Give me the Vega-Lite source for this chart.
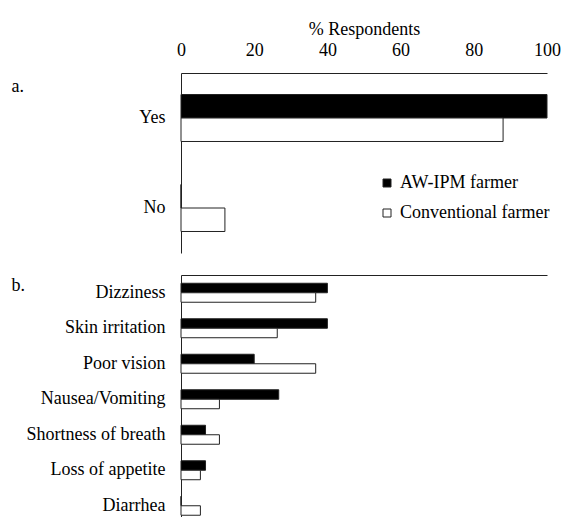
{
  "$schema": "https://vega.github.io/schema/vega-lite/v6.json",
  "padding": {"left": 11, "top": 20, "right": 5, "bottom": 0},
  "background": "white",
  "config": {
    "view": {"stroke": null},
    "font": "Liberation Serif",
    "axis": {"labelFont": "Liberation Serif", "titleFont": "Liberation Serif", "labelColor": "black", "titleColor": "black", "domainColor": "#222", "grid": false, "ticks": false},
    "legend": {"labelFont": "Liberation Serif", "labelColor": "black"}
  },
  "spacing": 22,
  "resolve": {"scale": {"color": "independent", "y": "independent", "yOffset": "independent"}},
  "vconcat": [
    {
      "width": 366,
      "height": 180,
      "data": {"values": [
        {"answer": "Yes", "farmer": "AW-IPM farmer", "pct": 100},
        {"answer": "Yes", "farmer": "Conventional farmer", "pct": 88},
        {"answer": "No", "farmer": "AW-IPM farmer", "pct": 0},
        {"answer": "No", "farmer": "Conventional farmer", "pct": 12}
      ]},
      "mark": {"type": "bar", "stroke": "#222", "strokeWidth": 1},
      "encoding": {
        "x": {"field": "pct", "type": "quantitative", "scale": {"domain": [0, 100], "nice": false},
          "axis": {"orient": "top", "title": "% Respondents", "titleFontSize": 18, "titleFontWeight": "normal", "titlePadding": 3, "labelFontSize": 18, "labelPadding": 14, "values": [0, 20, 40, 60, 80, 100], "labelFlush": false}},
        "y": {"field": "answer", "type": "nominal", "sort": ["Yes", "No"], "scale": {"paddingInner": 0.478, "paddingOuter": 0.239},
          "axis": {"title": "a.", "titleAngle": 0, "titleAlign": "left", "titleBaseline": "alphabetic", "titleX": -170, "titleY": 18, "titleFontSize": 18, "titleFontWeight": "normal", "labelFontSize": 18, "labelPadding": 16}},
        "yOffset": {"field": "farmer", "type": "nominal", "sort": ["AW-IPM farmer", "Conventional farmer"]},
        "color": {"field": "farmer", "type": "nominal", "scale": {"domain": ["AW-IPM farmer", "Conventional farmer"], "range": ["black", "white"]},
          "legend": {"title": null, "orient": "none", "legendX": 197, "legendY": 101, "padding": 0, "symbolType": "square", "symbolSize": 64, "symbolStrokeColor": "#222", "symbolStrokeWidth": 1, "labelFontSize": 18, "labelOffset": 4, "rowPadding": 12}}
      }
    },
    {
      "width": 366,
      "height": 248.5,
      "data": {"values": [
        {"symptom": "Dizziness", "farmer": "AW-IPM farmer", "pct": 40},
        {"symptom": "Dizziness", "farmer": "Conventional farmer", "pct": 36.8},
        {"symptom": "Skin irritation", "farmer": "AW-IPM farmer", "pct": 40},
        {"symptom": "Skin irritation", "farmer": "Conventional farmer", "pct": 26.3},
        {"symptom": "Poor vision", "farmer": "AW-IPM farmer", "pct": 20},
        {"symptom": "Poor vision", "farmer": "Conventional farmer", "pct": 36.8},
        {"symptom": "Nausea/Vomiting", "farmer": "AW-IPM farmer", "pct": 26.7},
        {"symptom": "Nausea/Vomiting", "farmer": "Conventional farmer", "pct": 10.5},
        {"symptom": "Shortness of breath", "farmer": "AW-IPM farmer", "pct": 6.7},
        {"symptom": "Shortness of breath", "farmer": "Conventional farmer", "pct": 10.5},
        {"symptom": "Loss of appetite", "farmer": "AW-IPM farmer", "pct": 6.7},
        {"symptom": "Loss of appetite", "farmer": "Conventional farmer", "pct": 5.3},
        {"symptom": "Diarrhea", "farmer": "AW-IPM farmer", "pct": 0},
        {"symptom": "Diarrhea", "farmer": "Conventional farmer", "pct": 5.3}
      ]},
      "mark": {"type": "bar", "stroke": "#222", "strokeWidth": 1},
      "encoding": {
        "x": {"field": "pct", "type": "quantitative", "scale": {"domain": [0, 100], "nice": false},
          "axis": {"orient": "top", "title": null, "labels": false, "ticks": false, "domain": true}},
        "y": {"field": "symptom", "type": "nominal", "sort": ["Dizziness", "Skin irritation", "Poor vision", "Nausea/Vomiting", "Shortness of breath", "Loss of appetite", "Diarrhea"], "scale": {"paddingInner": 0.465, "paddingOuter": 0.2325},
          "axis": {"title": "b.", "titleAngle": 0, "titleAlign": "left", "titleBaseline": "alphabetic", "titleX": -170, "titleY": 15.5, "titleFontSize": 18, "titleFontWeight": "normal", "labelFontSize": 18, "labelPadding": 16}},
        "yOffset": {"field": "farmer", "type": "nominal", "sort": ["AW-IPM farmer", "Conventional farmer"]},
        "color": {"field": "farmer", "type": "nominal", "scale": {"domain": ["AW-IPM farmer", "Conventional farmer"], "range": ["black", "white"]}, "legend": null}
      }
    }
  ]
}
